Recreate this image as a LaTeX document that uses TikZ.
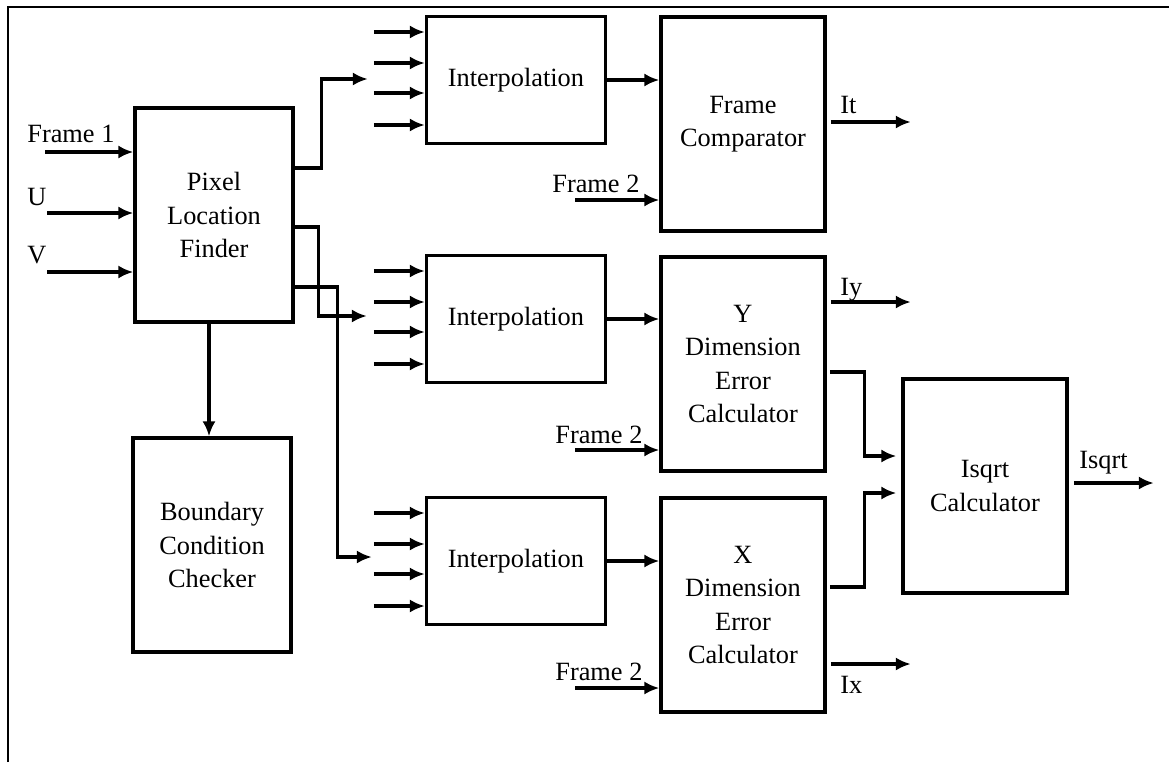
\documentclass[tikz,border=0pt]{standalone}
\usepackage{fontspec}
\setmainfont{Liberation Serif}
\usetikzlibrary{calc,arrows.meta}
\tikzset{
tallblockv1/.style={rectangle, draw=black!100, fill=none, line width=2pt, inner sep=0pt, minimum width=3.16cm, minimum height=4.28cm, align=center, font=\fontsize{15pt}{18.8pt}\selectfont},
tallblockv2/.style={tallblockv1, minimum width=3.28cm},
interpnodev1/.style={tallblockv1, minimum width=3.58cm, minimum height=2.54cm},
labelnodev1/.style={inner sep=0pt, anchor=base west, font=\fontsize{15pt}{18.8pt}\selectfont},
arrowv1/.style={line width=1.8pt, -{Latex[length=8.5pt,width=7.5pt]}},
}

\begin{document}
\begin{tikzpicture}[x=0.02cm, y=-0.02cm]
    \useasboundingbox (0,0) rectangle (1169,762);
    \draw[line width=1.5pt] (8,762) -- (8,7) -- (1169,7);
    % blocks
    \node[tallblockv1] at (214,215) (plf) {Pixel\\Location\\Finder};
    \node[tallblockv1] at (212,545) (bcc) {Boundary\\Condition\\Checker};
    \node[interpnodev1] at (516,80) (intA) {Interpolation};
    \node[interpnodev1] at (516,319) (intB) {Interpolation};
    \node[interpnodev1] at (516,561) (intC) {Interpolation};
    \node[tallblockv2] at (743,124) (fc) {Frame\\Comparator};
    \node[tallblockv2] at (743,364) (ydec) {Y\\Dimension\\Error\\Calculator};
    \node[tallblockv2] at (743,605) (xdec) {X\\Dimension\\Error\\Calculator};
    \node[tallblockv2] at (985,486) (isq) {Isqrt\\Calculator};
    % signal names
    \node[labelnodev1] at (27,142) (frameone) {Frame 1};
    \node[labelnodev1] at (27,205) (ulab) {U};
    \node[labelnodev1] at (27,263) (vlab) {V};
    \node[labelnodev1] at (552,192) (frametwoa) {Frame 2};
    \node[labelnodev1] at (555,443) (frametwob) {Frame 2};
    \node[labelnodev1] at (555,680) (frametwoc) {Frame 2};
    \node[labelnodev1] at (840,113) (itlab) {It};
    \node[labelnodev1] at (840,295) (iylab) {Iy};
    \node[labelnodev1] at (840,693) (ixlab) {Ix};
    \node[labelnodev1] at (1079,468) (isqlab) {Isqrt};
    % inputs
    \coordinate (f1in) at (45,152);
    \coordinate (uin) at (47,213);
    \coordinate (vin) at (47,272);
    \coordinate (fcin) at (575,200);
    \coordinate (ydecin) at (575,450);
    \coordinate (xdecin) at (575,688);
    \draw[arrowv1] (f1in) -- (f1in -| plf.west);
    \draw[arrowv1] (uin) -- (uin -| plf.west);
    \draw[arrowv1] (vin) -- (vin -| plf.west);
    \draw[arrowv1] (fcin) -- (fcin -| fc.west);
    \draw[arrowv1] (ydecin) -- (ydecin -| ydec.west);
    \draw[arrowv1] (xdecin) -- (xdecin -| xdec.west);
    \foreach \blk in {intA,intB,intC}{
        \foreach \dy in {-48,-17,13,45}{
            \draw[arrowv1] ($(\blk.west)+(-51,\dy)$) -- ($(\blk.west)+(0,\dy)$);
        }
    }
    % pixel location finder outputs
    \draw[arrowv1] ($(plf.east)+(0,-47)$) -- ++(27,0) |- ($(intA.west)+(-57,-1)$);
    \draw[arrowv1] ($(plf.east)+(0,12)$) -- ++(24,0) |- ($(intB.west)+(-58,-3)$);
    \draw[arrowv1] ($(plf.east)+(0,72)$) -- ++(43,0) |- ($(intC.west)+(-53,-4)$);
    \draw[arrowv1] ($(plf.south)+(-5,0)$) -- ($(bcc.north)+(-3,0)$);
    % interpolation to calculators
    \draw[arrowv1] (intA.east) -- (intA.east -| fc.west);
    \draw[arrowv1] (intB.east) -- (intB.east -| ydec.west);
    \draw[arrowv1] (intC.east) -- (intC.east -| xdec.west);
    % error calculators to isqrt
    \draw[arrowv1] ($(ydec.east)+(3,8)$) -- ++(35,0) |- ($(isq.west)+(-5,-30)$);
    \draw[arrowv1] ($(xdec.east)+(3,-18)$) -- ++(35,0) |- ($(isq.west)+(-5,7)$);
    % outputs
    \draw[arrowv1] ($(fc.east)+(4,-2)$) -- ++(80,0);
    \draw[arrowv1] ($(ydec.east)+(4,-62)$) -- ++(80,0);
    \draw[arrowv1] ($(xdec.east)+(4,59)$) -- ++(80,0);
    \draw[arrowv1] ($(isq.east)+(5,-3)$) -- ++(80,0);
\end{tikzpicture}
\end{document}
